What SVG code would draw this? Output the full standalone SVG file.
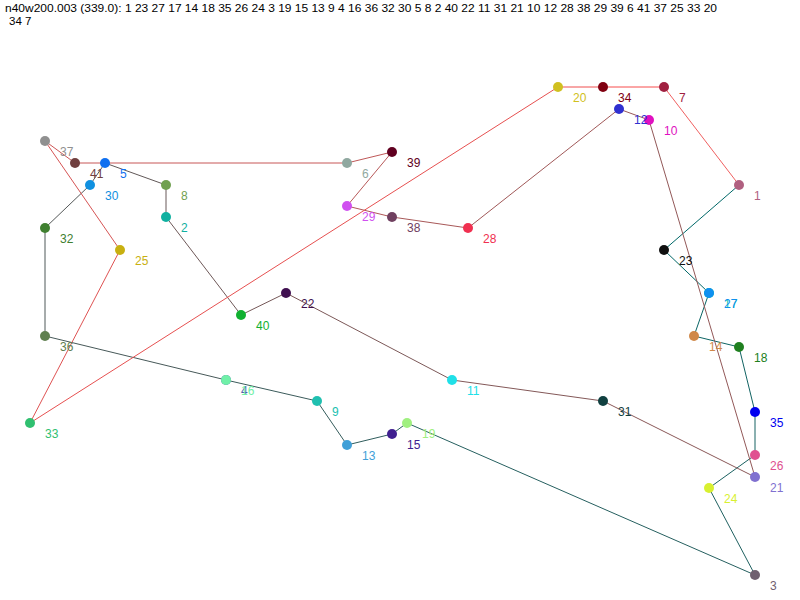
<svg xmlns="http://www.w3.org/2000/svg" width="800" height="600" viewBox="0 0 800 600">
<style>
text{font-family:"Liberation Sans",Arial,sans-serif;font-size:12px}
.t{fill:#000;font-size:11.5px}
.e{stroke-width:1;fill:none}
</style>
<rect width="800" height="600" fill="#fff"/>
<text class="t" x="5" y="12" textLength="712" lengthAdjust="spacingAndGlyphs">n40w200.003 (339.0): 1 23 27 17 14 18 35 26 24 3 19 15 13 9 4 16 36 32 30 5 8 2 40 22 11 31 21 10 12 28 38 29 39 6 41 37 25 33 20</text>
<text class="t" x="9" y="25">34 7</text>
<g id="connectors">
<line class="e" stroke="#006868" x1="739" y1="185" x2="664" y2="250"/>
<line class="e" stroke="#026767" x1="664" y1="250" x2="709" y2="293"/>
<line class="e" stroke="#056666" x1="709" y1="293" x2="709" y2="293"/>
<line class="e" stroke="#096565" x1="709" y1="293" x2="694" y2="336"/>
<line class="e" stroke="#0d6464" x1="694" y1="336" x2="739" y2="347"/>
<line class="e" stroke="#116363" x1="739" y1="347" x2="755" y2="412"/>
<line class="e" stroke="#166262" x1="755" y1="412" x2="755" y2="455"/>
<line class="e" stroke="#1a6161" x1="755" y1="455" x2="709" y2="488"/>
<line class="e" stroke="#1f6060" x1="709" y1="488" x2="755" y2="575"/>
<line class="e" stroke="#255f5f" x1="755" y1="575" x2="407" y2="423"/>
<line class="e" stroke="#2a5e5e" x1="407" y1="423" x2="392" y2="434"/>
<line class="e" stroke="#305d5d" x1="392" y1="434" x2="347" y2="445"/>
<line class="e" stroke="#355c5c" x1="347" y1="445" x2="317" y2="401"/>
<line class="e" stroke="#3b5b5b" x1="317" y1="401" x2="226" y2="380"/>
<line class="e" stroke="#415a5a" x1="226" y1="380" x2="226" y2="380"/>
<line class="e" stroke="#475959" x1="226" y1="380" x2="45" y2="336"/>
<line class="e" stroke="#4e5858" x1="45" y1="336" x2="45" y2="228"/>
<line class="e" stroke="#545858" x1="45" y1="228" x2="90" y2="185"/>
<line class="e" stroke="#5a5858" x1="90" y1="185" x2="105" y2="163"/>
<line class="e" stroke="#615858" x1="105" y1="163" x2="166" y2="185"/>
<line class="e" stroke="#685858" x1="166" y1="185" x2="166" y2="217"/>
<line class="e" stroke="#6e5858" x1="166" y1="217" x2="241" y2="315"/>
<line class="e" stroke="#755858" x1="241" y1="315" x2="286" y2="293"/>
<line class="e" stroke="#7c5858" x1="286" y1="293" x2="452" y2="380"/>
<line class="e" stroke="#835858" x1="452" y1="380" x2="603" y2="401"/>
<line class="e" stroke="#8a5858" x1="603" y1="401" x2="755" y2="477"/>
<line class="e" stroke="#925858" x1="755" y1="477" x2="649" y2="120"/>
<line class="e" stroke="#995858" x1="649" y1="120" x2="619" y2="109"/>
<line class="e" stroke="#a05858" x1="619" y1="109" x2="468" y2="228"/>
<line class="e" stroke="#a85858" x1="468" y1="228" x2="392" y2="217"/>
<line class="e" stroke="#af5858" x1="392" y1="217" x2="347" y2="206"/>
<line class="e" stroke="#b75858" x1="347" y1="206" x2="392" y2="152"/>
<line class="e" stroke="#bf5858" x1="392" y1="152" x2="347" y2="163"/>
<line class="e" stroke="#c75656" x1="347" y1="163" x2="75" y2="163"/>
<line class="e" stroke="#ce5656" x1="75" y1="163" x2="45" y2="141"/>
<line class="e" stroke="#d65454" x1="45" y1="141" x2="120" y2="250"/>
<line class="e" stroke="#de5252" x1="120" y1="250" x2="30" y2="423"/>
<line class="e" stroke="#e65050" x1="30" y1="423" x2="558" y2="87"/>
<line class="e" stroke="#ef4e4e" x1="558" y1="87" x2="603" y2="87"/>
<line class="e" stroke="#f74c4c" x1="603" y1="87" x2="664" y2="87"/>
<line class="e" stroke="#f06060" x1="664" y1="87" x2="739" y2="185"/>
</g>
<g id="n1"><circle cx="739" cy="185" r="5" fill="#b06080"/><text x="754" y="200" fill="#b06080">1</text></g>
<g id="n2"><circle cx="166" cy="217" r="5" fill="#10b0a0"/><text x="181" y="232" fill="#10b0a0">2</text></g>
<g id="n3"><circle cx="755" cy="575" r="5" fill="#706070"/><text x="770" y="590" fill="#706070">3</text></g>
<g id="n4"><circle cx="226" cy="380" r="5" fill="#5060b0"/><text x="241" y="395" fill="#5060b0">4</text></g>
<g id="n5"><circle cx="105" cy="163" r="5" fill="#1070f0"/><text x="120" y="178" fill="#1070f0">5</text></g>
<g id="n6"><circle cx="347" cy="163" r="5" fill="#90a8a0"/><text x="362" y="178" fill="#90a8a0">6</text></g>
<g id="n7"><circle cx="664" cy="87" r="5" fill="#a02040"/><text x="679" y="102" fill="#a02040">7</text></g>
<g id="n8"><circle cx="166" cy="185" r="5" fill="#70a050"/><text x="181" y="200" fill="#70a050">8</text></g>
<g id="n9"><circle cx="317" cy="401" r="5" fill="#20c0b0"/><text x="332" y="416" fill="#20c0b0">9</text></g>
<g id="n10"><circle cx="649" cy="120" r="5" fill="#e010c0"/><text x="664" y="135" fill="#e010c0">10</text></g>
<g id="n11"><circle cx="452" cy="380" r="5" fill="#20e0e8"/><text x="467" y="395" fill="#20e0e8">11</text></g>
<g id="n12"><circle cx="619" cy="109" r="5" fill="#3030d0"/><text x="634" y="124" fill="#3030d0">12</text></g>
<g id="n13"><circle cx="347" cy="445" r="5" fill="#40a0d8"/><text x="362" y="460" fill="#40a0d8">13</text></g>
<g id="n14"><circle cx="694" cy="336" r="5" fill="#d08848"/><text x="709" y="351" fill="#d08848">14</text></g>
<g id="n15"><circle cx="392" cy="434" r="5" fill="#402090"/><text x="407" y="449" fill="#402090">15</text></g>
<g id="n16"><circle cx="226" cy="380" r="5" fill="#70f0a8"/><text x="241" y="395" fill="#70f0a8">16</text></g>
<g id="n17"><circle cx="709" cy="293" r="5" fill="#20d0a0"/><text x="724" y="308" fill="#20d0a0">17</text></g>
<g id="n18"><circle cx="739" cy="347" r="5" fill="#208020"/><text x="754" y="362" fill="#208020">18</text></g>
<g id="n19"><circle cx="407" cy="423" r="5" fill="#a0f080"/><text x="422" y="438" fill="#a0f080">19</text></g>
<g id="n20"><circle cx="558" cy="87" r="5" fill="#d0c020"/><text x="573" y="102" fill="#d0c020">20</text></g>
<g id="n21"><circle cx="755" cy="477" r="5" fill="#8070d0"/><text x="770" y="492" fill="#8070d0">21</text></g>
<g id="n22"><circle cx="286" cy="293" r="5" fill="#401050"/><text x="301" y="308" fill="#401050">22</text></g>
<g id="n23"><circle cx="664" cy="250" r="5" fill="#101010"/><text x="679" y="265" fill="#101010">23</text></g>
<g id="n24"><circle cx="709" cy="488" r="5" fill="#d8f030"/><text x="724" y="503" fill="#d8f030">24</text></g>
<g id="n25"><circle cx="120" cy="250" r="5" fill="#c8b010"/><text x="135" y="265" fill="#c8b010">25</text></g>
<g id="n26"><circle cx="755" cy="455" r="5" fill="#e05090"/><text x="770" y="470" fill="#e05090">26</text></g>
<g id="n27"><circle cx="709" cy="293" r="5" fill="#1090f0"/><text x="724" y="308" fill="#1090f0">27</text></g>
<g id="n28"><circle cx="468" cy="228" r="5" fill="#f03050"/><text x="483" y="243" fill="#f03050">28</text></g>
<g id="n29"><circle cx="347" cy="206" r="5" fill="#d050f0"/><text x="362" y="221" fill="#d050f0">29</text></g>
<g id="n30"><circle cx="90" cy="185" r="5" fill="#1090e0"/><text x="105" y="200" fill="#1090e0">30</text></g>
<g id="n31"><circle cx="603" cy="401" r="5" fill="#104040"/><text x="618" y="416" fill="#104040">31</text></g>
<g id="n32"><circle cx="45" cy="228" r="5" fill="#408030"/><text x="60" y="243" fill="#408030">32</text></g>
<g id="n33"><circle cx="30" cy="423" r="5" fill="#30c070"/><text x="45" y="438" fill="#30c070">33</text></g>
<g id="n34"><circle cx="603" cy="87" r="5" fill="#800010"/><text x="618" y="102" fill="#800010">34</text></g>
<g id="n35"><circle cx="755" cy="412" r="5" fill="#0000f0"/><text x="770" y="427" fill="#0000f0">35</text></g>
<g id="n36"><circle cx="45" cy="336" r="5" fill="#608050"/><text x="60" y="351" fill="#608050">36</text></g>
<g id="n37"><circle cx="45" cy="141" r="5" fill="#909090"/><text x="60" y="156" fill="#909090">37</text></g>
<g id="n38"><circle cx="392" cy="217" r="5" fill="#704060"/><text x="407" y="232" fill="#704060">38</text></g>
<g id="n39"><circle cx="392" cy="152" r="5" fill="#600020"/><text x="407" y="167" fill="#600020">39</text></g>
<g id="n40"><circle cx="241" cy="315" r="5" fill="#10b030"/><text x="256" y="330" fill="#10b030">40</text></g>
<g id="n41"><circle cx="75" cy="163" r="5" fill="#704040"/><text x="90" y="178" fill="#704040">41</text></g>
</svg>
